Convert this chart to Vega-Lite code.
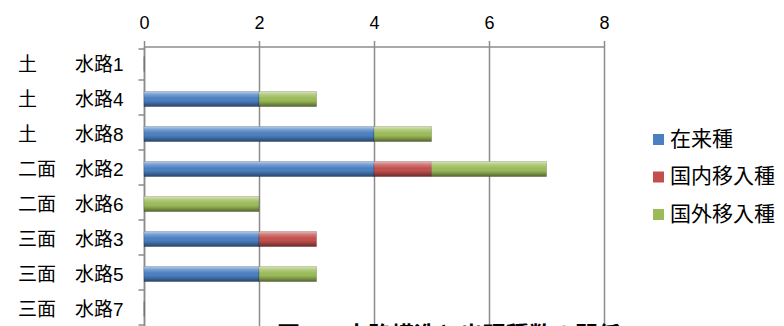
{
  "$schema": "https://vega.github.io/schema/vega-lite/v6.json",
  "width": 460,
  "height": 280,
  "autosize": {"type": "none"},
  "padding": {"left": 144, "top": 46.5, "right": 180, "bottom": 20},
  "background": "white",
  "datasets": {
    "種数表": [
      {"水路": "土　　水路1", "区分": "在来種", "種数": 0},
      {"水路": "土　　水路4", "区分": "在来種", "種数": 2},
      {"水路": "土　　水路4", "区分": "国外移入種", "種数": 1},
      {"水路": "土　　水路8", "区分": "在来種", "種数": 4},
      {"水路": "土　　水路8", "区分": "国外移入種", "種数": 1},
      {"水路": "二面　水路2", "区分": "在来種", "種数": 4},
      {"水路": "二面　水路2", "区分": "国内移入種", "種数": 1},
      {"水路": "二面　水路2", "区分": "国外移入種", "種数": 2},
      {"水路": "二面　水路6", "区分": "国外移入種", "種数": 2},
      {"水路": "三面　水路3", "区分": "在来種", "種数": 2},
      {"水路": "三面　水路3", "区分": "国内移入種", "種数": 1},
      {"水路": "三面　水路5", "区分": "在来種", "種数": 2},
      {"水路": "三面　水路5", "区分": "国外移入種", "種数": 1},
      {"水路": "三面　水路7", "区分": "在来種", "種数": 0}
    ],
    "区分表": [
      {"区分": "在来種", "順序": 1},
      {"区分": "国内移入種", "順序": 2},
      {"区分": "国外移入種", "順序": 3}
    ]
  },
  "data": {"name": "種数表"},
  "transform": [
    {"lookup": "区分", "from": {"data": {"name": "区分表"}, "key": "区分", "fields": ["順序"]}}
  ],
  "encoding": {
    "y": {
      "field": "水路",
      "type": "nominal",
      "sort": ["土　　水路1", "土　　水路4", "土　　水路8", "二面　水路2", "二面　水路6", "三面　水路3", "三面　水路5", "三面　水路7"],
      "scale": {"domain": ["土　　水路1", "土　　水路4", "土　　水路8", "二面　水路2", "二面　水路6", "三面　水路3", "三面　水路5", "三面　水路7"]},
      "axis": {
        "title": null,
        "grid": false,
        "domain": true,
        "domainColor": "#8c8c8c",
        "domainWidth": 1.5,
        "ticks": true,
        "tickBand": "extent",
        "tickSize": 6,
        "tickColor": "#8c8c8c",
        "tickWidth": 1.5,
        "labelFont": "Liberation Sans, Noto Sans CJK JP",
        "labelFontSize": 19,
        "labelColor": "black",
        "labelPadding": 15
      }
    }
  },
  "layer": [
    {
      "mark": {"type": "bar", "size": 15, "stroke": "black", "strokeOpacity": 0.3, "strokeWidth": 0.6},
      "encoding": {
        "x": {
          "field": "種数",
          "type": "quantitative",
          "stack": "zero",
          "scale": {"domain": [0, 8]},
          "axis": {
            "orient": "top",
            "title": null,
            "values": [0, 2, 4, 6, 8],
            "format": "d",
            "grid": true,
            "gridColor": "#8c8c8c",
            "gridWidth": 1.5,
            "domainColor": "#8c8c8c",
            "domainWidth": 1.5,
            "tickColor": "#8c8c8c",
            "tickWidth": 1.5,
            "tickSize": 6,
            "labelFont": "Liberation Sans",
            "labelFontSize": 18,
            "labelColor": "black",
            "labelPadding": 8,
            "labelFlush": false
          }
        },
        "order": {"field": "順序", "type": "quantitative", "sort": "ascending"},
        "color": {
          "field": "区分",
          "type": "nominal",
          "sort": ["在来種", "国内移入種", "国外移入種"],
          "scale": {
            "domain": ["在来種", "国内移入種", "国外移入種"],
            "range": ["#4a7fc1", "#c24f4c", "#9bbb59"]
          },
          "legend": {
            "title": null,
            "orient": "none",
            "legendX": 504,
            "legendY": 82.5,
            "padding": 0,
            "symbolType": "square",
            "symbolSize": 121,
            "symbolStrokeWidth": 0,
            "labelFont": "Noto Sans CJK JP",
            "labelFontSize": 21,
            "labelColor": "black",
            "labelOffset": 1,
            "rowPadding": 15.5
          }
        }
      }
    },
    {
      "mark": {
        "type": "bar",
        "size": 15,
        "fill": {"gradient": "linear", "x1": 0, "y1": 0, "x2": 0, "y2": 1, "stops": [
          {"offset": 0, "color": "rgba(255,255,255,0.6)"},
          {"offset": 0.2, "color": "rgba(255,255,255,0.25)"},
          {"offset": 0.45, "color": "rgba(255,255,255,0)"},
          {"offset": 0.7, "color": "rgba(0,0,0,0.1)"},
          {"offset": 1, "color": "rgba(0,0,0,0.45)"}
        ]}
      },
      "encoding": {
        "x": {"aggregate": "sum", "field": "種数", "type": "quantitative"}
      }
    }
  ],
  "title": {
    "text": "図-4　水路構造と出現種数の関係",
    "orient": "bottom",
    "anchor": "start",
    "frame": "group",
    "dx": 133,
    "offset": -2,
    "font": "Noto Sans CJK JP",
    "fontSize": 23,
    "fontWeight": "bold",
    "color": "black",
    "baseline": "top"
  },
  "config": {"view": {"stroke": null}}
}
